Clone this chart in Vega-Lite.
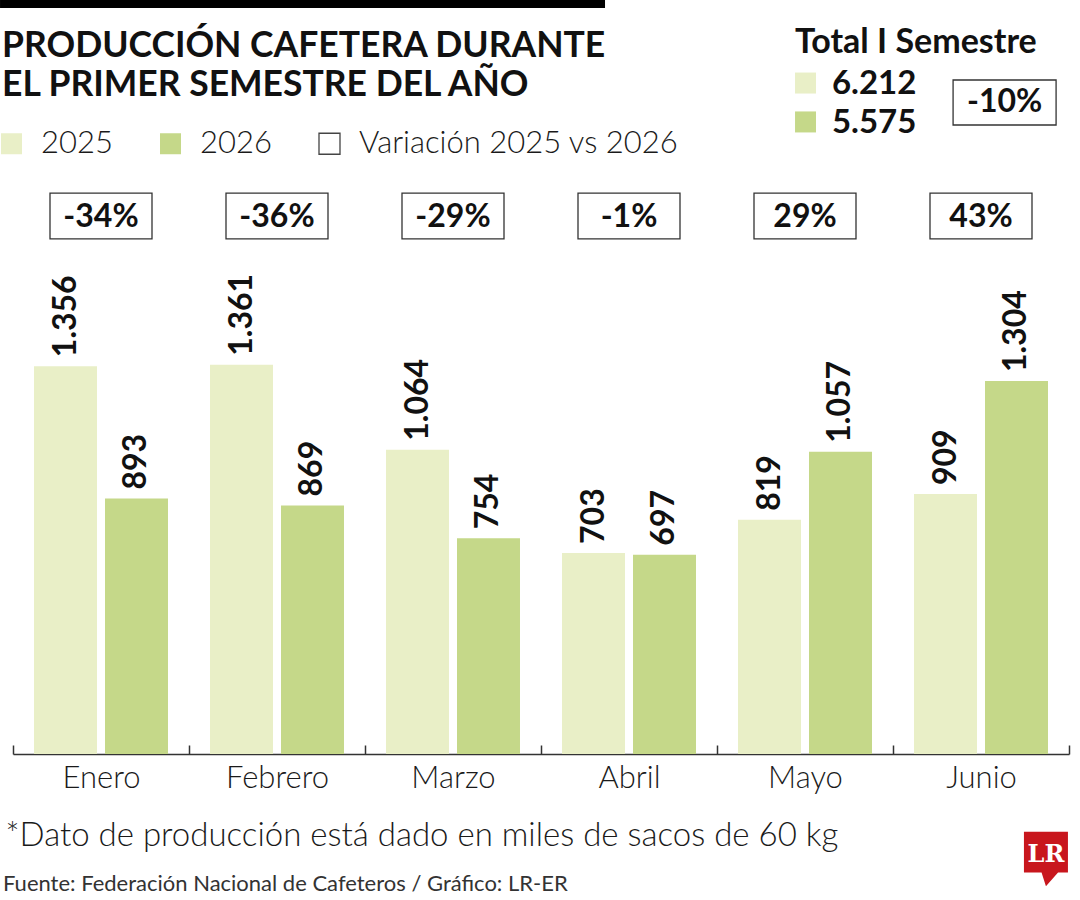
{
  "$schema": "https://vega.github.io/schema/vega-lite/v6.json",
  "width": 1056,
  "height": 572,
  "autosize": {"type": "none"},
  "padding": {"left": 13, "top": 182, "right": 11, "bottom": 146},
  "background": "white",
  "config": {
    "view": {"stroke": null},
    "font": "Lato",
    "locale": {"number": {"decimal": ",", "thousands": ".", "grouping": [3], "currency": ["$", ""]}}
  },
  "datasets": {
    "prod": [
      {"mes": "Enero", "anio": "2025", "valor": 1356},
      {"mes": "Enero", "anio": "2026", "valor": 893},
      {"mes": "Febrero", "anio": "2025", "valor": 1361},
      {"mes": "Febrero", "anio": "2026", "valor": 869},
      {"mes": "Marzo", "anio": "2025", "valor": 1064},
      {"mes": "Marzo", "anio": "2026", "valor": 754},
      {"mes": "Abril", "anio": "2025", "valor": 703},
      {"mes": "Abril", "anio": "2026", "valor": 697},
      {"mes": "Mayo", "anio": "2025", "valor": 819},
      {"mes": "Mayo", "anio": "2026", "valor": 1057},
      {"mes": "Junio", "anio": "2025", "valor": 909},
      {"mes": "Junio", "anio": "2026", "valor": 1304}
    ],
    "var": [
      {"mes": "Enero", "variacion": "-34%"},
      {"mes": "Febrero", "variacion": "-36%"},
      {"mes": "Marzo", "variacion": "-29%"},
      {"mes": "Abril", "variacion": "-1%"},
      {"mes": "Mayo", "variacion": "29%"},
      {"mes": "Junio", "variacion": "43%"}
    ]
  },
  "layer": [
    {
      "data": {"name": "prod"},
      "mark": {"type": "bar"},
      "encoding": {
        "x": {
          "field": "mes", "type": "nominal",
          "scale": {"domain": ["Enero", "Febrero", "Marzo", "Abril", "Mayo", "Junio"], "paddingInner": 0, "paddingOuter": 0},
          "axis": {
            "title": "*Dato de producción está dado en miles de sacos de 60 kg",
            "titleFont": "Lato", "titleFontSize": 33, "titleFontWeight": 300, "titleColor": "#1a1a1a",
            "titleAnchor": "start", "titleAlign": "left", "titleBaseline": "alphabetic",
            "titleX": -8, "titleY": 91,
            "labelAngle": 0, "labelFont": "Lato", "labelFontSize": 31, "labelFontWeight": 300, "labelColor": "#1a1a1a",
            "labelPadding": 18,
            "domainColor": "#333333", "domainWidth": 1.5,
            "tickBand": "extent", "tickSize": -9, "tickColor": "#333333", "tickWidth": 1.5
          }
        },
        "xOffset": {"field": "anio", "type": "nominal", "scale": {"paddingInner": 0.1127, "paddingOuter": 0.296}},
        "y": {"field": "valor", "type": "quantitative", "scale": {"domain": [0, 2000], "nice": false}, "axis": null},
        "color": {
          "field": "anio", "type": "nominal",
          "scale": {"domain": ["2025", "2026", "Variación 2025 vs 2026"], "range": ["#e9efc7", "#c5d889", "#ffffff"]},
          "legend": {
            "title": null, "orient": "none", "legendX": -17, "legendY": -54,
            "direction": "horizontal", "symbolType": "square", "symbolSize": 441,
            "labelFont": "Lato", "labelFontSize": 31, "labelFontWeight": 300, "labelColor": "#1a1a1a",
            "labelOffset": 14, "columnPadding": 42, "padding": 0,
            "labelLimit": 500,
            "encode": {"symbols": {"update": {
              "stroke": {"signal": "datum.value === 'Variación 2025 vs 2026' ? '#444444' : 'transparent'"},
              "strokeWidth": {"value": 1.3}
            }}}
          }
        }
      }
    },
    {
      "data": {"name": "prod"},
      "mark": {"type": "text", "angle": 270, "align": "left", "baseline": "middle", "dx": 9, "font": "Lato", "fontSize": 32, "fontWeight": "bold", "color": "#111111"},
      "encoding": {
        "x": {"field": "mes", "type": "nominal"},
        "xOffset": {"field": "anio", "type": "nominal"},
        "y": {"field": "valor", "type": "quantitative"},
        "text": {"field": "valor", "type": "quantitative", "format": ",.0f"}
      }
    },
    {
      "data": {"name": "var"},
      "mark": {"type": "bar", "width": 102, "stroke": "#333333", "strokeWidth": 1.3},
      "encoding": {
        "x": {"field": "mes", "type": "nominal"},
        "y": {"datum": 1961},
        "y2": {"datum": 1801},
        "color": {"datum": "Variación 2025 vs 2026"}
      }
    },
    {
      "data": {"name": "var"},
      "mark": {"type": "text", "align": "center", "baseline": "alphabetic", "font": "Lato", "fontSize": 32, "fontWeight": "bold", "color": "#111111"},
      "encoding": {
        "x": {"field": "mes", "type": "nominal"},
        "y": {"datum": 1843},
        "text": {"field": "variacion"}
      }
    },
    {
      "data": {"values": [{"k": 1}]},
      "mark": {"type": "point", "shape": "M -1 -0.01322 L 1 -0.01322 L 1 0.01322 L -1 0.01322 Z", "size": 366025, "filled": true, "color": "#000000", "opacity": 1},
      "encoding": {
        "x": {"datum": "Febrero", "bandPosition": 0.645},
        "y": {"datum": 2622}
      }
    },
    {
      "data": {"values": [{"texto": "PRODUCCIÓN CAFETERA DURANTE"}]},
      "mark": {"type": "text", "align": "left", "baseline": "alphabetic", "dx": -11, "font": "Lato", "fontSize": 35.5, "fontWeight": "bold", "color": "#111111"},
      "encoding": {
        "x": {"datum": "Enero", "bandPosition": 0},
        "y": {"datum": 2437},
        "text": {"field": "texto"}
      }
    },
    {
      "data": {"values": [{"texto": "EL PRIMER SEMESTRE DEL AÑO"}]},
      "mark": {"type": "text", "align": "left", "baseline": "alphabetic", "dx": -11, "font": "Lato", "fontSize": 35.5, "fontWeight": "bold", "color": "#111111"},
      "encoding": {
        "x": {"datum": "Enero", "bandPosition": 0},
        "y": {"datum": 2301},
        "text": {"field": "texto"}
      }
    },
    {
      "data": {"values": [{"texto": "Total I Semestre"}]},
      "mark": {"type": "text", "align": "left", "baseline": "alphabetic", "font": "Lato", "fontSize": 34, "fontWeight": "bold", "color": "#111111"},
      "encoding": {
        "x": {"datum": "Mayo", "bandPosition": 0.443},
        "y": {"datum": 2451},
        "text": {"field": "texto"}
      }
    },
    {
      "data": {"values": [{"anio": "2025", "total": 6212}]},
      "mark": {"type": "square", "size": 441, "opacity": 1},
      "encoding": {
        "x": {"datum": "Mayo", "bandPosition": 0.503},
        "y": {"datum": 2346},
        "color": {"field": "anio", "type": "nominal"}
      }
    },
    {
      "data": {"values": [{"anio": "2025", "total": 6212}]},
      "mark": {"type": "text", "align": "left", "baseline": "alphabetic", "font": "Lato", "fontSize": 33, "fontWeight": "bold", "color": "#111111"},
      "encoding": {
        "x": {"datum": "Mayo", "bandPosition": 0.653},
        "y": {"datum": 2308},
        "text": {"field": "total", "type": "quantitative", "format": ",.0f"}
      }
    },
    {
      "data": {"values": [{"anio": "2026", "total": 5575}]},
      "mark": {"type": "square", "size": 441, "opacity": 1},
      "encoding": {
        "x": {"datum": "Mayo", "bandPosition": 0.503},
        "y": {"datum": 2210},
        "color": {"field": "anio", "type": "nominal"}
      }
    },
    {
      "data": {"values": [{"anio": "2026", "total": 5575}]},
      "mark": {"type": "text", "align": "left", "baseline": "alphabetic", "font": "Lato", "fontSize": 33, "fontWeight": "bold", "color": "#111111"},
      "encoding": {
        "x": {"datum": "Mayo", "bandPosition": 0.653},
        "y": {"datum": 2171},
        "text": {"field": "total", "type": "quantitative", "format": ",.0f"}
      }
    },
    {
      "data": {"values": [{"variacion": "-10%"}]},
      "mark": {"type": "point", "shape": "M -1 -0.437 L 1 -0.437 L 1 0.437 L -1 0.437 Z", "size": 10609, "filled": false, "stroke": "#333333", "strokeWidth": 1.3, "opacity": 1},
      "encoding": {
        "x": {"datum": "Junio", "bandPosition": 0.634},
        "y": {"datum": 2278}
      }
    },
    {
      "data": {"values": [{"variacion": "-10%"}]},
      "mark": {"type": "text", "align": "center", "baseline": "alphabetic", "font": "Lato", "fontSize": 32, "fontWeight": "bold", "color": "#111111"},
      "encoding": {
        "x": {"datum": "Junio", "bandPosition": 0.634},
        "y": {"datum": 2245},
        "text": {"field": "variacion"}
      }
    },
    {
      "data": {"values": [{"texto": "Fuente: Federación Nacional de Cafeteros / Gráfico: LR-ER"}]},
      "mark": {"type": "text", "align": "left", "baseline": "alphabetic", "dx": -10, "font": "Lato", "fontSize": 22, "fontWeight": "normal", "color": "#333333"},
      "encoding": {
        "x": {"datum": "Enero", "bandPosition": 0},
        "y": {"datum": -479},
        "text": {"field": "texto"}
      }
    },
    {
      "data": {"values": [{"k": 1}]},
      "mark": {"type": "point", "shape": "M -1 -0.93 L 1 -0.93 L 1 0.93 L 0.55 0.93 L 0 1.55 L -0.2 0.93 L -1 0.93 Z", "size": 1936, "filled": true, "color": "#c8161d", "opacity": 1},
      "encoding": {
        "x": {"datum": "Junio", "bandPosition": 0.869},
        "y": {"datum": -343}
      }
    },
    {
      "data": {"values": [{"texto": "LR"}]},
      "mark": {"type": "text", "align": "center", "baseline": "alphabetic", "font": "DejaVu Serif", "fontSize": 24, "fontWeight": "bold", "color": "#ffffff"},
      "encoding": {
        "x": {"datum": "Junio", "bandPosition": 0.869},
        "y": {"datum": -377},
        "text": {"field": "texto"}
      }
    }
  ]
}
